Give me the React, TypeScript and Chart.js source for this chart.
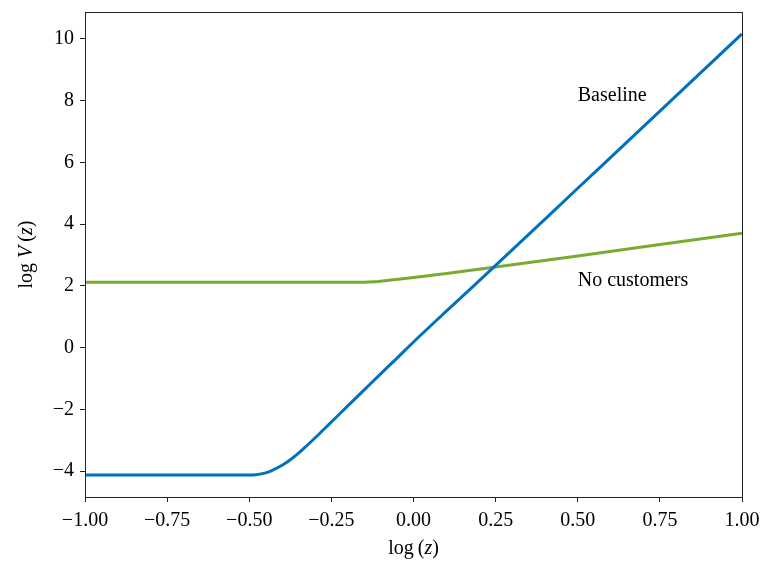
import React, { useEffect, useRef } from "react";
import { Chart, registerables } from "chart.js";

Chart.register(...registerables);

const baselineX = [-1, -0.5, -0.48, -0.45, -0.427, -0.4, -0.376, -0.35, -0.325, -0.3, -0.275, -0.25, -0.2, -0.15, -0.1, -0.05, 0, 0.1, 0.25, 0.5, 0.75, 1];
const baselineY = [-4.13, -4.13, -4.12, -4.06, -3.96, -3.81, -3.64, -3.42, -3.18, -2.93, -2.67, -2.41, -1.89, -1.37, -0.85, -0.34, 0.18, 1.18, 2.66, 5.16, 7.66, 10.16];

const noCustX = [-1, -0.15, -0.12, -0.08, -0.04, 0, 0.1, 0.25, 0.5, 0.75, 1];
const noCustY = [2.12, 2.12, 2.13, 2.17, 2.22, 2.27, 2.4, 2.61, 2.97, 3.34, 3.7];

const annotations = [
  { text: "Baseline", x: 0.5, y: 8 },
  { text: "No customers", x: 0.5, y: 2 },
];

const FONT = "'Liberation Serif', 'DejaVu Serif', serif";
const FS = 20;
const fmtMinus = (s: string) => s.replace("-", "\u2212");

const textPlugin = {
  id: "custom",
  afterDraw(chart: any) {
    const { ctx, chartArea, scales } = chart;
    ctx.save();
    ctx.strokeStyle = "#222";
    ctx.lineWidth = 1;
    ctx.strokeRect(Math.round(chartArea.left) + 0.5, Math.round(chartArea.top) + 0.5, Math.round(chartArea.right - chartArea.left), Math.round(chartArea.bottom - chartArea.top));
    ctx.fillStyle = "#000";
    ctx.font = `${FS}px ${FONT}`;
    ctx.textAlign = "left";
    ctx.textBaseline = "alphabetic";
    for (const a of annotations) {
      ctx.fillText(a.text, scales.x.getPixelForValue(a.x), scales.y.getPixelForValue(a.y));
    }
    const drawParts = (parts: [string, boolean][], cx: number, cy: number) => {
      let total = 0;
      const widths = parts.map(([t, it]) => {
        ctx.font = `${it ? "italic " : ""}${FS}px ${FONT}`;
        const w = ctx.measureText(t).width;
        total += w;
        return w;
      });
      let x = cx - total / 2;
      parts.forEach(([t, it], i) => {
        ctx.font = `${it ? "italic " : ""}${FS}px ${FONT}`;
        ctx.fillText(t, x, cy);
        x += widths[i];
      });
    };
    ctx.textBaseline = "middle";
    drawParts([["log\u2009(", false], ["z", true], [")", false]], (chartArea.left + chartArea.right) / 2, 549);
    ctx.save();
    ctx.translate(27, (chartArea.top + chartArea.bottom) / 2);
    ctx.rotate(-Math.PI / 2);
    drawParts([["log ", false], ["V", true], ["\u2009(", false], ["z", true], [")", false]], 0, 0);
    ctx.restore();
    ctx.restore();
  },
};

export default function App() {
  const ref = useRef<HTMLCanvasElement | null>(null);
  useEffect(() => {
    if (!ref.current) return;
    const chart = new Chart(ref.current, {
      type: "line",
      data: {
        datasets: [
          {
            label: "Baseline",
            data: baselineX.map((x, i) => ({ x, y: baselineY[i] })),
            borderColor: "#0072BD",
            borderWidth: 3,
            pointRadius: 0,
            cubicInterpolationMode: "monotone",
          },
          {
            label: "No customers",
            data: noCustX.map((x, i) => ({ x, y: noCustY[i] })),
            borderColor: "#77AC30",
            borderWidth: 3,
            pointRadius: 0,
            cubicInterpolationMode: "monotone",
          },
        ],
      },
      options: {
        animation: false,
        responsive: false,
        maintainAspectRatio: false,
        layout: { padding: { left: 0, top: 12, right: 22, bottom: 0 } },
        plugins: { legend: { display: false }, tooltip: { enabled: false } },
        scales: {
          x: {
            type: "linear",
            min: -1,
            max: 1,
            afterFit: (s: any) => { s.height = 69; s.paddingLeft = 0; s.paddingRight = 0; },
            grid: { drawOnChartArea: false, drawTicks: true, tickLength: 5, color: "#222" },
            border: { display: true, color: "#222" },
            ticks: {
              stepSize: 0.25,
              color: "#000",
              padding: 7,
              maxRotation: 0,
              font: { family: FONT, size: FS },
              callback: (v: any) => fmtMinus(Number(v).toFixed(2)),
            },
          },
          y: {
            type: "linear",
            min: -4.84,
            max: 10.87,
            afterFit: (s: any) => { s.width = 85; s.paddingTop = 0; s.paddingBottom = 0; },
            grid: { drawOnChartArea: false, drawTicks: true, tickLength: 5, color: "#222" },
            border: { display: true, color: "#222" },
            ticks: {
              stepSize: 2,
              includeBounds: false,
              color: "#000",
              padding: 6,
              font: { family: FONT, size: FS },
              callback: (v: any) => fmtMinus(String(Math.round(Number(v)))),
            },
          },
        },
      },
      plugins: [textPlugin],
    } as any);
    return () => chart.destroy();
  }, []);
  return (
    <div style={{ position: "absolute", left: 0, top: 0, width: 764, height: 566, background: "#fff" }}>
      <canvas ref={ref} width={764} height={566} style={{ width: 764, height: 566, display: "block" }} />
    </div>
  );
}
